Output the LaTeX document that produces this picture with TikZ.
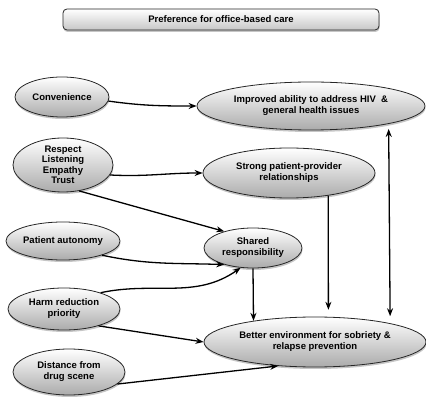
\documentclass[tikz,border=0pt]{standalone}
\usepackage{fontspec}
\setmainfont{Liberation Sans}
\usetikzlibrary{shapes.geometric,shadows,arrows.meta}
\begin{document}
\begin{tikzpicture}[x=1pt,y=-1pt,
  oval/.style={ellipse,draw=black!85,line width=0.8pt,top color=white,bottom color=black!33,
    drop shadow={shadow xshift=0.5pt,shadow yshift=-2pt,opacity=0.45},
    inner sep=0pt,align=center,font=\bfseries\fontsize{9.5}{11}\selectfont},
  arr/.style={-{Stealth[length=8pt,width=6pt]},line width=1.3pt}]
\useasboundingbox (0,0) rectangle (426,403);
\node[rounded corners=4pt,draw=black!85,line width=0.8pt,minimum width=316pt,minimum height=21pt,
  top color=white,bottom color=black!22,inner sep=0pt,
  drop shadow={shadow xshift=0.5pt,shadow yshift=-2pt,opacity=0.45},
  font=\bfseries\fontsize{9.5}{11}\selectfont] (pref) at (221,19.5) {Preference for office-based care};
\node[oval,minimum width=94pt,minimum height=40pt] (conv) at (62,97) {Convenience};
\node[oval,minimum width=100pt,minimum height=54pt,font=\bfseries\fontsize{9.5}{10.5}\selectfont] (resp) at (63,165) {Respect\\Listening\\Empathy\\Trust};
\node[oval,minimum width=228pt,minimum height=48pt] (impr) at (311,106) {Improved ability to address HIV\ \ \&\\general health issues};
\node[oval,minimum width=172pt,minimum height=50pt] (strong) at (289,173) {Strong patient-provider\\relationships};
\node[oval,minimum width=114pt,minimum height=38pt] (auto) at (63,241) {Patient autonomy};
\node[oval,minimum width=112pt,minimum height=42pt] (harm) at (64,309) {Harm reduction\\priority};
\node[oval,minimum width=112pt,minimum height=46pt] (dist) at (69,372) {Distance from\\drug scene};
\node[oval,minimum width=98pt,minimum height=40pt] (shared) at (253,248) {Shared\\responsibility};
\node[oval,minimum width=222pt,minimum height=50pt] (better) at (315,342) {Better environment for sobriety \&\\relapse prevention};

\draw[arr] (conv.-5) to[out=-8,in=180] (impr.west);
\draw[arr] (resp.-12) to[out=-3,in=180] (strong.west);
\draw[arr] (resp.-58) -- (shared.150);
\draw[arr] (auto.-20) to[out=-12,in=178] (shared.210);
\draw[arr] (harm.24) to[out=12,in=-145] (shared.238);
\draw[arr] (harm.-26) -- (better.west);
\draw[arr] (dist.-14) -- (better.213);
\draw[arr] (shared.south) -- (better.161);
\draw[arr,shorten >=7pt] (strong.-30) -- (better.62);
\draw[arr,{Stealth[length=8pt,width=6pt]}-{Stealth[length=8pt,width=6pt]},shorten <=5pt,shorten >=7pt] (impr.-13) -- (better.14);
\end{tikzpicture}
\end{document}
